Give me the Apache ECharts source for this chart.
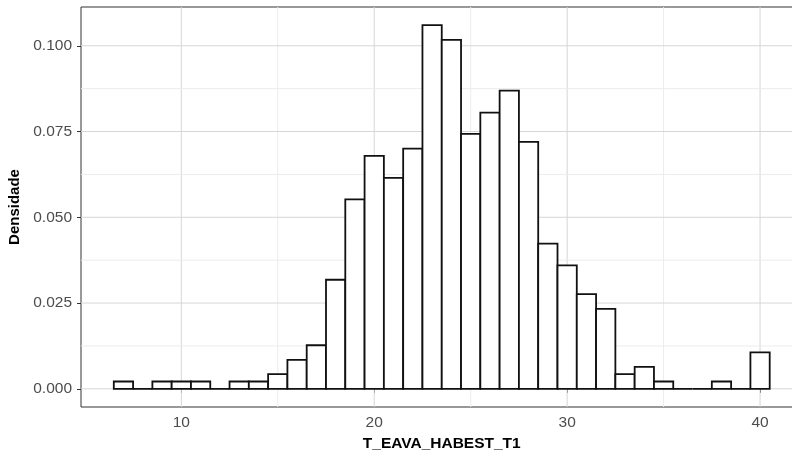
<!DOCTYPE html>
<html>
<head>
<meta charset="utf-8">
<script src="https://cdn.jsdelivr.net/npm/echarts@6/dist/echarts.min.js"></script>
<style>html,body{margin:0;padding:0;background:#fff;}#c{width:792px;height:452px;}</style>
</head>
<body>
<div id="c"></div>
<script>
// Bin centres (bin width 1)
const binCenters = [7,8,9,10,11,12,13,14,15,16,17,18,19,20,21,22,23,24,25,26,27,28,29,30,31,32,33,34,35,36,37,38,39,40];
// Density per bin
const densities = [0.00213,0,0.00213,0.00213,0.00213,0,0.00213,0.00213,0.00426,0.00845,0.0127,0.0318,0.0552,0.0679,0.0615,0.0700,0.1060,0.1017,0.0743,0.0805,0.0869,0.0720,0.0423,0.0360,0.0276,0.0233,0.00426,0.0064,0.00213,0,0,0.00213,0,0.0106];
const xTicks = [10, 20, 30, 40];
const xMinor = [15, 25, 35];
const yTicks = [0, 0.025, 0.05, 0.075, 0.1];
const yMinor = [0.0125, 0.0375, 0.0625, 0.0875];
const xTitle = 'T_EAVA_HABEST_T1';
const yTitle = 'Densidade';

const barData = binCenters.map((c, i) => [c, densities[i]]);
const gridData = []
  .concat(xTicks.map(v => ['x', v, 'major']))
  .concat(xMinor.map(v => ['x', v, 'minor']))
  .concat(yTicks.map(v => ['y', v, 'major']))
  .concat(yMinor.map(v => ['y', v, 'minor']));

const chart = echarts.init(document.getElementById('c'), null, {renderer: 'canvas'});
const font = '"Liberation Sans", Arial, sans-serif';
chart.setOption({
  animation: false,
  backgroundColor: '#ffffff',
  grid: {left: 81, top: 7, width: 721.5, height: 400, show: true, borderColor: '#333333', borderWidth: 1,
    backgroundColor: 'transparent', containLabel: false, outerBoundsMode: 'none'},
  xAxis: {
    type: 'value', min: 4.8, max: 42.2,
    name: xTitle, nameLocation: 'middle', nameGap: 27,
    nameTextStyle: {fontFamily: font, fontWeight: 'bold', fontSize: 15.5, color: '#000'},
    axisLine: {show: false},
    axisTick: {show: true, length: 4, lineStyle: {color: '#333'}, customValues: xTicks},
    axisLabel: {customValues: xTicks, color: '#4d4d4d', fontSize: 15.5, fontFamily: font, margin: 8},
    splitLine: {show: false}
  },
  yAxis: {
    type: 'value', min: -0.0053, max: 0.1113,
    name: yTitle, nameLocation: 'middle', nameGap: 56,
    nameTextStyle: {fontFamily: font, fontWeight: 'bold', fontSize: 15, color: '#000'},
    axisLine: {show: false},
    axisTick: {show: true, length: 4, lineStyle: {color: '#333'}, customValues: yTicks},
    axisLabel: {customValues: yTicks, color: '#4d4d4d', fontSize: 15.5, fontFamily: font, margin: 9,
      formatter: v => v.toFixed(3)},
    splitLine: {show: false}
  },
  series: [
    {
      type: 'custom', z: 1, silent: true,
      data: gridData,
      encode: {x: 1},
      renderItem: function (params, api) {
        const cs = params.coordSys;
        const axis = gridData[params.dataIndex][0];
        const kind = gridData[params.dataIndex][2];
        const v = gridData[params.dataIndex][1];
        const color = kind === 'major' ? '#d6d6d6' : '#ececec';
        if (axis === 'x') {
          const p = api.coord([v, 0]);
          return {type: 'line', shape: {x1: p[0], y1: cs.y, x2: p[0], y2: cs.y + cs.height}, style: {stroke: color, lineWidth: 1}};
        } else {
          const p = api.coord([10, v]);
          return {type: 'line', shape: {x1: cs.x, y1: p[1], x2: cs.x + cs.width, y2: p[1]}, style: {stroke: color, lineWidth: 1}};
        }
      }
    },
    {
      type: 'custom', z: 2,
      data: barData,
      encode: {x: 0, y: 1},
      renderItem: function (params, api) {
        const c = api.value(0), d = api.value(1);
        const p0 = api.coord([c - 0.5, d]);
        const p1 = api.coord([c + 0.5, 0]);
        return {type: 'rect', shape: {x: p0[0], y: p0[1], width: p1[0] - p0[0], height: p1[1] - p0[1]},
          style: {fill: '#ffffff', stroke: '#111111', lineWidth: 1.8}};
      }
    }
  ]
});
</script>
</body>
</html>
